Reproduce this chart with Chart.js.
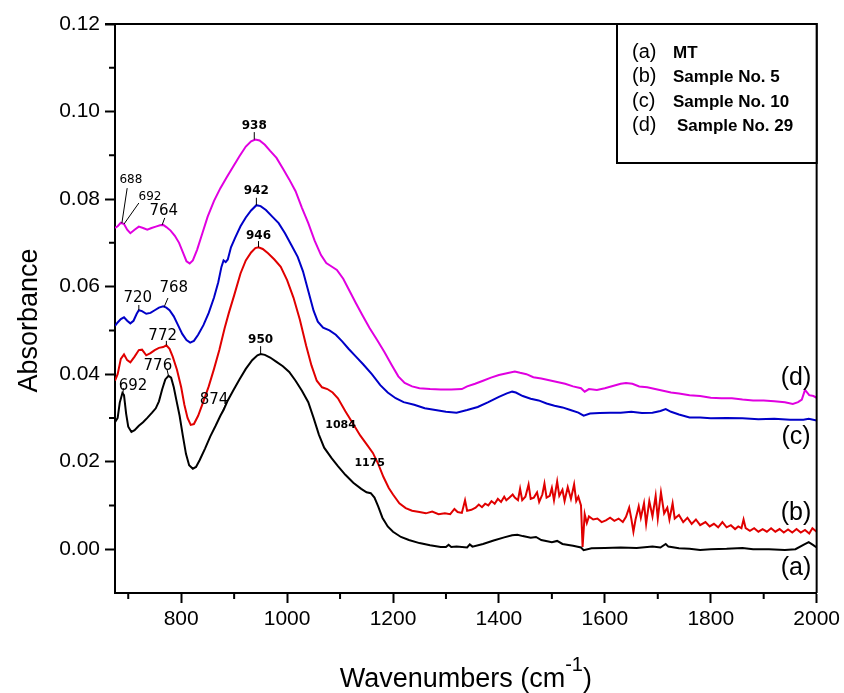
<!DOCTYPE html>
<html>
<head>
<meta charset="utf-8">
<script src="https://cdn.jsdelivr.net/npm/chart.js@4.4.1/dist/chart.umd.min.js"></script>
<style>
    html, body { margin: 0; padding: 0; background: #fff; }
    canvas { display: block; }
</style>
</head>
<body>
<canvas id="ftir" width="844" height="693"></canvas>
<script>
// ---------------- DATA ----------------
const xTicks = [800, 1000, 1200, 1400, 1600, 1800, 2000];
const xMinor = [700, 900, 1100, 1300, 1500, 1700, 1900];
const yTicks = [0, 0.02, 0.04, 0.06, 0.08, 0.10, 0.12];
const yMinor = [0.01, 0.03, 0.05, 0.07, 0.09, 0.11];

const seriesNames = ["MT", "Sample No. 5", "Sample No. 10", "Sample No. 29"];
const seriesTags = ["(a)", "(b)", "(c)", "(d)"];
const seriesColors = ["#000000", "#e00000", "#0000c8", "#e000e0"];

// (a) MT  [wavenumber, absorbance]
const curveA = [
    [675, 0.029], [680, 0.030], [684, 0.0335], [689, 0.0357], [692, 0.0352], [696, 0.031],
    [700, 0.028], [706, 0.0268], [712, 0.0272], [720, 0.0282], [728, 0.029], [736, 0.030],
    [745, 0.0312], [752, 0.0322], [758, 0.0338], [764, 0.0365], [770, 0.0388], [776, 0.0396],
    [781, 0.0392], [786, 0.037], [791, 0.034], [797, 0.0305], [803, 0.026], [809, 0.0218],
    [815, 0.0192], [822, 0.0184], [828, 0.0188], [835, 0.0204], [845, 0.023], [855, 0.0258],
    [865, 0.0282], [874, 0.0305], [880, 0.0318], [888, 0.034], [898, 0.0362], [910, 0.0388],
    [922, 0.0412], [934, 0.0432], [944, 0.0443], [950, 0.0446], [958, 0.0444], [968, 0.0438],
    [980, 0.0428], [992, 0.0418], [1004, 0.0405], [1016, 0.0385], [1028, 0.0362], [1040, 0.0336],
    [1050, 0.030], [1060, 0.0262], [1070, 0.0232], [1084, 0.0208], [1096, 0.019], [1110, 0.017],
    [1125, 0.0152], [1140, 0.0138], [1150, 0.013], [1158, 0.0128], [1165, 0.0118], [1172, 0.0098],
    [1180, 0.0072], [1190, 0.0052], [1200, 0.004], [1215, 0.0028], [1230, 0.0021], [1250, 0.0014],
    [1270, 0.0009], [1290, 0.0005], [1300, 0.0005], [1305, 0.0010], [1310, 0.0005], [1320, 0.0006],
    [1340, 0.0004], [1345, 0.0011], [1350, 0.0006], [1370, 0.0012], [1390, 0.002], [1410, 0.0027],
    [1425, 0.0032], [1435, 0.0033], [1445, 0.003], [1460, 0.0026], [1470, 0.0028], [1480, 0.0021],
    [1500, 0.0016], [1510, 0.0019], [1520, 0.0012], [1540, 0.0008], [1555, 0.0004], [1560, -0.0002],
    [1575, 0.0002], [1600, 0.0003], [1630, 0.0004], [1660, 0.0003], [1690, 0.0006], [1705, 0.0004],
    [1715, 0.0012], [1720, 0.0006], [1740, 0.0002], [1760, 0.0001], [1780, -0.0002], [1800, 0.0],
    [1830, 0.0001], [1860, 0.0003], [1880, 0.0], [1910, 0.0], [1940, -0.0002], [1960, 0.0],
    [1975, 0.001], [1985, 0.0016], [1993, 0.001], [2000, 0.0004]
];

// (b) Sample No. 5
const curveB = [
    [675, 0.0385], [680, 0.040], [686, 0.0435], [692, 0.0445], [698, 0.0432], [704, 0.0427],
    [712, 0.044], [720, 0.0455], [726, 0.0456], [734, 0.0443], [742, 0.0448], [750, 0.0455],
    [758, 0.046], [766, 0.0462], [772, 0.0466], [778, 0.0458], [784, 0.044], [792, 0.041],
    [800, 0.037], [806, 0.033], [812, 0.030], [818, 0.0284], [824, 0.0286], [832, 0.0305],
    [842, 0.0338], [852, 0.0372], [862, 0.0412], [872, 0.0455], [882, 0.0505], [890, 0.054],
    [900, 0.058], [912, 0.063], [922, 0.066], [932, 0.0678], [940, 0.0688], [946, 0.069],
    [954, 0.0686], [964, 0.0676], [976, 0.0662], [988, 0.0645], [1000, 0.0615], [1012, 0.0575],
    [1024, 0.0525], [1036, 0.0465], [1046, 0.042], [1056, 0.0385], [1066, 0.037], [1076, 0.0366],
    [1086, 0.0358], [1096, 0.0345], [1110, 0.0315], [1124, 0.0288], [1138, 0.026], [1150, 0.024],
    [1162, 0.022], [1172, 0.0195], [1182, 0.0165], [1192, 0.014], [1200, 0.0125], [1212, 0.0105],
    [1224, 0.0094], [1236, 0.0088], [1250, 0.0085], [1262, 0.0082], [1274, 0.0086], [1286, 0.008],
    [1298, 0.0082], [1308, 0.008], [1316, 0.0092], [1322, 0.0085], [1330, 0.0083], [1336, 0.0112],
    [1340, 0.0088], [1348, 0.009], [1356, 0.0095], [1362, 0.0102], [1368, 0.0096], [1374, 0.0104],
    [1380, 0.010], [1386, 0.011], [1392, 0.0104], [1398, 0.0115], [1404, 0.0108], [1410, 0.012],
    [1414, 0.0112], [1420, 0.0118], [1426, 0.0125], [1430, 0.0118], [1436, 0.0112], [1440, 0.0138],
    [1444, 0.0112], [1450, 0.012], [1456, 0.0148], [1460, 0.0115], [1466, 0.0118], [1472, 0.013],
    [1476, 0.0108], [1482, 0.0125], [1486, 0.015], [1490, 0.0118], [1496, 0.0122], [1500, 0.014],
    [1504, 0.0112], [1510, 0.0155], [1514, 0.0122], [1520, 0.0136], [1524, 0.011], [1530, 0.0142],
    [1536, 0.0115], [1542, 0.0148], [1546, 0.011], [1550, 0.012], [1555, 0.010], [1558, 0.0005],
    [1562, 0.008], [1566, 0.006], [1570, 0.0075], [1578, 0.0068], [1586, 0.007], [1594, 0.0062],
    [1602, 0.0066], [1610, 0.0072], [1618, 0.0065], [1626, 0.007], [1634, 0.0062], [1640, 0.0074],
    [1646, 0.0095], [1650, 0.007], [1654, 0.004], [1658, 0.0068], [1664, 0.0098], [1668, 0.0072],
    [1674, 0.0105], [1678, 0.0058], [1684, 0.011], [1690, 0.0075], [1696, 0.0122], [1700, 0.007],
    [1706, 0.013], [1712, 0.0082], [1718, 0.0095], [1722, 0.0068], [1728, 0.0105], [1732, 0.007],
    [1740, 0.0078], [1748, 0.0062], [1756, 0.0072], [1764, 0.0058], [1772, 0.0068], [1780, 0.0055],
    [1790, 0.0062], [1798, 0.0052], [1806, 0.0058], [1814, 0.005], [1822, 0.0062], [1830, 0.005],
    [1838, 0.0055], [1846, 0.0046], [1852, 0.0052], [1858, 0.0048], [1862, 0.0068], [1866, 0.0048],
    [1874, 0.0042], [1882, 0.0048], [1890, 0.004], [1898, 0.0046], [1906, 0.004], [1914, 0.0048],
    [1922, 0.004], [1930, 0.0046], [1938, 0.0038], [1946, 0.0045], [1954, 0.0038], [1962, 0.0046],
    [1970, 0.0038], [1978, 0.0044], [1986, 0.0036], [1992, 0.0048], [2000, 0.004]
];

// (c) Sample No. 10
const curveC = [
    [675, 0.051], [680, 0.0518], [686, 0.0526], [692, 0.053], [698, 0.0522], [704, 0.0516],
    [710, 0.0522], [716, 0.0538], [720, 0.0546], [726, 0.0544], [734, 0.0538], [742, 0.054],
    [750, 0.0546], [758, 0.0552], [766, 0.0555], [772, 0.0552], [778, 0.0546], [786, 0.0532],
    [794, 0.0512], [802, 0.0492], [810, 0.0478], [817, 0.0472], [824, 0.0476], [832, 0.049],
    [842, 0.0512], [852, 0.054], [862, 0.0575], [870, 0.061], [876, 0.0645], [880, 0.066],
    [884, 0.0656], [888, 0.0662], [894, 0.069], [902, 0.0712], [912, 0.0738], [922, 0.0758],
    [932, 0.0774], [942, 0.0786], [950, 0.0784], [960, 0.0775], [972, 0.076], [984, 0.0745],
    [996, 0.0722], [1008, 0.0695], [1020, 0.0668], [1030, 0.0635], [1040, 0.059], [1050, 0.0545],
    [1058, 0.052], [1068, 0.0506], [1080, 0.050], [1092, 0.049], [1104, 0.0475], [1116, 0.0458],
    [1130, 0.044], [1144, 0.0422], [1160, 0.040], [1176, 0.0375], [1190, 0.0358], [1205, 0.0345],
    [1220, 0.0336], [1240, 0.033], [1260, 0.0322], [1280, 0.0318], [1300, 0.0314], [1320, 0.0312],
    [1340, 0.0318], [1360, 0.0325], [1380, 0.0336], [1400, 0.0348], [1415, 0.0356], [1425, 0.036],
    [1432, 0.0358], [1445, 0.035], [1460, 0.0344], [1475, 0.034], [1490, 0.0333], [1505, 0.0328],
    [1520, 0.0324], [1535, 0.0318], [1550, 0.0312], [1560, 0.0305], [1572, 0.031], [1590, 0.0311],
    [1610, 0.0312], [1630, 0.0312], [1650, 0.0314], [1670, 0.0311], [1690, 0.0312], [1705, 0.0316],
    [1715, 0.032], [1725, 0.0314], [1740, 0.0308], [1760, 0.0301], [1780, 0.0301], [1800, 0.0299],
    [1830, 0.030], [1860, 0.0299], [1890, 0.0297], [1920, 0.0298], [1950, 0.0296], [1975, 0.0296],
    [1985, 0.0298], [2000, 0.0294]
];

// (d) Sample No. 29
const curveD = [
    [675, 0.0734], [680, 0.0738], [686, 0.0746], [692, 0.0743], [698, 0.073], [704, 0.0722],
    [712, 0.073], [720, 0.0737], [728, 0.0734], [736, 0.073], [744, 0.0734], [752, 0.0737],
    [760, 0.074], [766, 0.0741], [772, 0.0736], [780, 0.0728], [788, 0.0716], [796, 0.070],
    [804, 0.0676], [810, 0.0658], [816, 0.0653], [822, 0.066], [830, 0.0684], [840, 0.0722],
    [850, 0.076], [862, 0.0796], [874, 0.0825], [886, 0.085], [898, 0.0874], [910, 0.0898],
    [922, 0.092], [932, 0.0932], [940, 0.0936], [948, 0.0934], [958, 0.0924], [968, 0.091],
    [980, 0.0894], [992, 0.087], [1004, 0.0845], [1016, 0.0818], [1028, 0.078], [1040, 0.0745],
    [1052, 0.0705], [1064, 0.0672], [1074, 0.0654], [1084, 0.0646], [1094, 0.0638], [1106, 0.0618],
    [1118, 0.059], [1130, 0.0562], [1142, 0.0535], [1156, 0.0505], [1170, 0.0478], [1184, 0.045],
    [1198, 0.042], [1210, 0.0395], [1222, 0.038], [1236, 0.0372], [1250, 0.0368], [1270, 0.0366],
    [1290, 0.0365], [1310, 0.0365], [1330, 0.0366], [1340, 0.0372], [1355, 0.0378], [1370, 0.0385],
    [1385, 0.0392], [1400, 0.0398], [1415, 0.0402], [1430, 0.0406], [1440, 0.0403], [1452, 0.040],
    [1465, 0.0393], [1480, 0.039], [1495, 0.0386], [1510, 0.0382], [1525, 0.0378], [1540, 0.0372],
    [1555, 0.0368], [1562, 0.036], [1570, 0.0366], [1585, 0.0364], [1600, 0.0368], [1615, 0.0373],
    [1630, 0.0378], [1640, 0.038], [1652, 0.0378], [1665, 0.0372], [1680, 0.037], [1695, 0.0366],
    [1710, 0.0362], [1725, 0.0358], [1740, 0.0356], [1760, 0.0352], [1780, 0.035], [1800, 0.0346],
    [1820, 0.0345], [1840, 0.0345], [1860, 0.0342], [1880, 0.034], [1900, 0.034], [1920, 0.0338],
    [1940, 0.0336], [1955, 0.0332], [1965, 0.0336], [1972, 0.0342], [1978, 0.0364], [1986, 0.0352],
    [1994, 0.035], [2000, 0.0346]
];

const curves = [curveA, curveB, curveC, curveD];

// peak labels: text, point on curve, end of leader, text centre (all in data units)
const peakLabels = [
    { text: "938", at: [938, 0.0936], tip: [938, 0.0953], pos: [938, 0.0967], font: "bold 12px 'DejaVu Sans'" },
    { text: "942", at: [942, 0.0786], tip: [942, 0.0803], pos: [942, 0.0818], font: "bold 12px 'DejaVu Sans'" },
    { text: "946", at: [946, 0.0690], tip: [946, 0.0704], pos: [946, 0.0716], font: "bold 12px 'DejaVu Sans'" },
    { text: "950", at: [950, 0.0446], tip: [950, 0.0464], pos: [950, 0.0478], font: "bold 12px 'DejaVu Sans'" },
    { text: "688", at: [688, 0.0745], tip: [698, 0.0825], pos: [705, 0.0844], font: "12px 'DejaVu Sans'" },
    { text: "692", at: [692, 0.0743], tip: [720, 0.0791], pos: [741, 0.0805], font: "12px 'DejaVu Sans'" },
    { text: "764", at: [764, 0.0741], tip: [769, 0.0757], pos: [767, 0.0773], font: "15px 'DejaVu Sans'" },
    { text: "720", at: [720, 0.0546], tip: [720, 0.0558], pos: [718, 0.0574], font: "15px 'DejaVu Sans'" },
    { text: "768", at: [768, 0.0554], tip: [775, 0.0574], pos: [786, 0.0597], font: "15px 'DejaVu Sans'" },
    { text: "772", at: [772, 0.0466], tip: [772, 0.0476], pos: [765, 0.0487], font: "15px 'DejaVu Sans'" },
    { text: "776", at: [776, 0.0396], tip: [773, 0.0412], pos: [756, 0.0419], font: "15px 'DejaVu Sans'" },
    { text: "692", at: [690, 0.0357], tip: [691, 0.0368], pos: [709, 0.0373], font: "15px 'DejaVu Sans'" },
    { text: "874", at: [874, 0.0305], tip: [886, 0.0336], pos: [862, 0.0341], font: "15px 'DejaVu Sans'" },
    { text: "1084", at: null, tip: null, pos: [1101, 0.0283], font: "bold 11px 'DejaVu Sans'" },
    { text: "1175", at: null, tip: null, pos: [1156, 0.0197], font: "bold 11px 'DejaVu Sans'" }
];

// curve tags at the right end
const tagPos = [[1961, -0.0043], [1961, 0.0083], [1961, 0.0256], [1961, 0.0391]];

// ---------------- PLUGINS ----------------
const ink = "#000";

const framePlugin = {
    id: "frame",
    afterDraw(chart) {
        const { ctx, chartArea: a, scales } = chart;
        const x = scales.x, y = scales.y;
        ctx.save();
        ctx.strokeStyle = ink;
        ctx.lineWidth = 2;

        // top and right border
        ctx.beginPath();
        ctx.moveTo(a.left - 10, a.top);
        ctx.lineTo(a.right, a.top);
        ctx.lineTo(a.right, a.bottom);
        ctx.stroke();

        // minor ticks
        ctx.beginPath();
        xMinor.forEach(v => {
            const px = x.getPixelForValue(v);
            ctx.moveTo(px, a.bottom);
            ctx.lineTo(px, a.bottom + 6);
        });
        yMinor.forEach(v => {
            const py = y.getPixelForValue(v);
            ctx.moveTo(a.left, py);
            ctx.lineTo(a.left - 6, py);
        });
        ctx.stroke();

        // legend box
        const bx = 617, by = a.top, bw = a.right - 617, bh = 139;
        ctx.fillStyle = "#fff";
        ctx.fillRect(bx, by, bw, bh);
        ctx.strokeRect(bx, by, bw, bh);
        ctx.fillStyle = ink;
        ctx.textBaseline = "middle";
        ctx.textAlign = "left";
        seriesNames.forEach((name, i) => {
            const ly = by + 28 + i * 24.5;
            ctx.font = "20px 'Liberation Sans'";
            ctx.fillText(seriesTags[i], 632, ly);
            ctx.font = "bold 17px 'Liberation Sans'";
            ctx.fillText(name, i === 3 ? 677 : 673, ly + 1);
        });

        // curve tags
        ctx.font = "25px 'Liberation Sans'";
        ctx.textAlign = "center";
        tagPos.forEach((p, i) => {
            ctx.fillText(seriesTags[i], x.getPixelForValue(p[0]), y.getPixelForValue(p[1]));
        });

        // peak labels
        ctx.lineWidth = 1;
        peakLabels.forEach(l => {
            if (l.at) {
                ctx.beginPath();
                ctx.moveTo(x.getPixelForValue(l.at[0]), y.getPixelForValue(l.at[1]));
                ctx.lineTo(x.getPixelForValue(l.tip[0]), y.getPixelForValue(l.tip[1]));
                ctx.stroke();
            }
            ctx.font = l.font;
            ctx.fillText(l.text, x.getPixelForValue(l.pos[0]), y.getPixelForValue(l.pos[1]));
        });

        // axis titles
        ctx.font = "27px 'Liberation Sans'";
        ctx.save();
        ctx.translate(30, (a.top + a.bottom) / 2 + 12);
        ctx.rotate(-Math.PI / 2);
        ctx.fillText("Absorbance", 0, 0);
        ctx.restore();

        const main = "Wavenumbers (cm", sup = "-1", close = ")";
        const w1 = ctx.measureText(main).width;
        ctx.font = "20px 'Liberation Sans'";
        const w2 = ctx.measureText(sup).width;
        ctx.font = "27px 'Liberation Sans'";
        const w3 = ctx.measureText(close).width;
        let tx = (a.left + a.right) / 2 - (w1 + w2 + w3) / 2;
        const ty = 680;
        ctx.textAlign = "left";
        ctx.fillText(main, tx, ty);
        tx += w1;
        ctx.font = "20px 'Liberation Sans'";
        ctx.fillText(sup, tx, ty - 15);
        tx += w2;
        ctx.font = "27px 'Liberation Sans'";
        ctx.fillText(close, tx, ty);

        ctx.restore();
    }
};

// ---------------- CHART ----------------
const datasets = curves.map((c, i) => ({
    label: seriesNames[i],
    data: c.map(p => ({ x: p[0], y: p[1] })),
    borderColor: seriesColors[i],
    borderWidth: 2,
    pointRadius: 0,
    showLine: true,
    tension: 0
}));

new Chart(document.getElementById("ftir").getContext("2d"), {
    type: "scatter",
    data: { datasets: datasets },
    options: {
        responsive: false,
        animation: false,
        devicePixelRatio: 1,
        layout: { padding: { left: 0, right: 26, top: 24, bottom: 0 } },
        plugins: {
            legend: { display: false },
            tooltip: { enabled: false }
        },
        scales: {
            x: {
                type: "linear",
                min: 675,
                max: 2000,
                afterBuildTicks: s => { s.ticks = xTicks.map(v => ({ value: v })); },
                afterFit: s => { s.height = 100; },
                border: { color: ink, width: 2 },
                grid: { drawOnChartArea: false, tickLength: 10, tickColor: ink, tickWidth: 2 },
                ticks: {
                    color: ink,
                    padding: 4,
                    maxRotation: 0,
                    font: { family: "'Liberation Sans'", size: 21 },
                    callback: v => String(v)
                }
            },
            y: {
                min: -0.01,
                max: 0.12,
                afterBuildTicks: s => { s.ticks = yTicks.map(v => ({ value: v })); },
                afterFit: s => { s.width = 115; },
                border: { color: ink, width: 2 },
                grid: { drawOnChartArea: false, tickLength: 10, tickColor: ink, tickWidth: 2 },
                ticks: {
                    color: ink,
                    padding: 5,
                    font: { family: "'Liberation Sans'", size: 21 },
                    callback: v => v.toFixed(2)
                }
            }
        }
    },
    plugins: [framePlugin]
});
</script>
</body>
</html>
